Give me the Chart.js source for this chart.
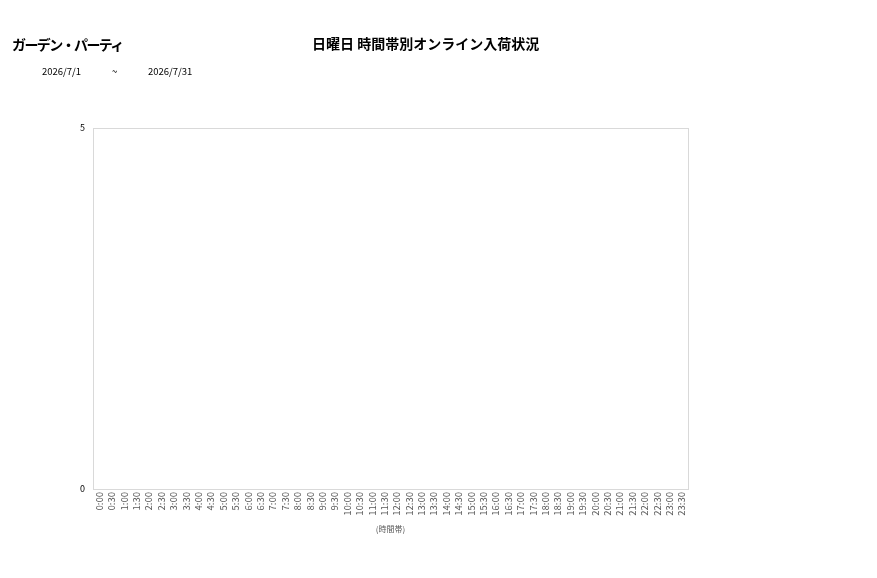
<!DOCTYPE html>
<html>
<head>
<meta charset="utf-8">
<script src="https://cdn.jsdelivr.net/npm/chart.js@4/dist/chart.umd.min.js"></script>
<style>
  body { margin: 0; background: #fff; font-family: "Noto Sans CJK JP", sans-serif; }
  #wrap { position: relative; width: 877px; height: 578px; }
  .txt { position: absolute; color: #000; white-space: nowrap; }
</style>
</head>
<body>
<div id="wrap">
  <div class="txt" style="left:12px; top:34px; font-size:14px; font-weight:bold; letter-spacing:-1.6px;">ガーデン・パーティ</div>
  <div class="txt" style="left:312px; top:33px; font-size:14px; font-weight:bold;">日曜日 時間帯別オンライン入荷状況</div>
  <div class="txt" style="left:42px; top:64px; font-size:9.5px;">2026/7/1</div>
  <div class="txt" style="left:112px; top:64px; font-size:9.5px;">~</div>
  <div class="txt" style="left:148px; top:64px; font-size:9.5px;">2026/7/31</div>
  <canvas id="chart" width="877" height="578"></canvas>
</div>
<script>
// categories: half-hour time slots
var timeSlots = ["0:00","0:30","1:00","1:30","2:00","2:30","3:00","3:30","4:00","4:30","5:00","5:30",
  "6:00","6:30","7:00","7:30","8:00","8:30","9:00","9:30","10:00","10:30","11:00","11:30",
  "12:00","12:30","13:00","13:30","14:00","14:30","15:00","15:30","16:00","16:30","17:00","17:30",
  "18:00","18:30","19:00","19:30","20:00","20:30","21:00","21:30","22:00","22:30","23:00","23:30"];
// arrivals per slot (nothing recorded)
var arrivals = [0,0,0,0,0,0,0,0,0,0,0,0,0,0,0,0,0,0,0,0,0,0,0,0,
  0,0,0,0,0,0,0,0,0,0,0,0,0,0,0,0,0,0,0,0,0,0,0,0];
var yTicks = [0, 5];

var canvas = document.getElementById("chart");
var myChart = new Chart(canvas, {
  type: 'bar',
  data: {
    labels: timeSlots,
    datasets: [{
      label: 'オンライン入荷',
      data: arrivals,
      backgroundColor: '#4472c4'
    }]
  },
  options: {
    responsive: false,
    animation: false,
    layout: { padding: { top: 128, right: 189, left: 0, bottom: 44 } },
    plugins: { legend: { display: false }, tooltip: { enabled: false } },
    scales: {
      x: {
        grid: { display: false, drawTicks: false },
        border: { display: true, color: '#d9d9d9' },
        ticks: {
          autoSkip: false, minRotation: 90, maxRotation: 90, padding: 3,
          color: '#595959', font: { family: 'Noto Sans CJK JP', size: 9.5 }
        },
        title: {
          display: true, text: '(時間帯)', color: '#595959',
          font: { family: 'Noto Sans CJK JP', size: 8 }, padding: { top: 2, bottom: 0 }
        },
        afterFit: function (scale) { scale.height = 578 - 489 - 44; }
      },
      y: {
        min: 0, max: 5,
        afterBuildTicks: function (scale) { scale.ticks = yTicks.map(function (v) { return { value: v }; }); },
        grid: { display: false, drawTicks: false },
        border: { display: true, color: '#d9d9d9' },
        ticks: { padding: 8, color: '#000', font: { family: 'Noto Sans CJK JP', size: 9 } },
        afterFit: function (scale) { scale.width = 93; }
      }
    }
  },
  plugins: [{
    id: 'frame',
    afterDraw: function (chart) {
      var a = chart.chartArea, c = chart.ctx;
      c.save();
      c.strokeStyle = '#d9d9d9';
      c.lineWidth = 1;
      c.strokeRect(a.left + 0.5, a.top + 0.5, a.right - a.left, a.bottom - a.top);
      c.restore();
    }
  }]
});
</script>
</body>
</html>
